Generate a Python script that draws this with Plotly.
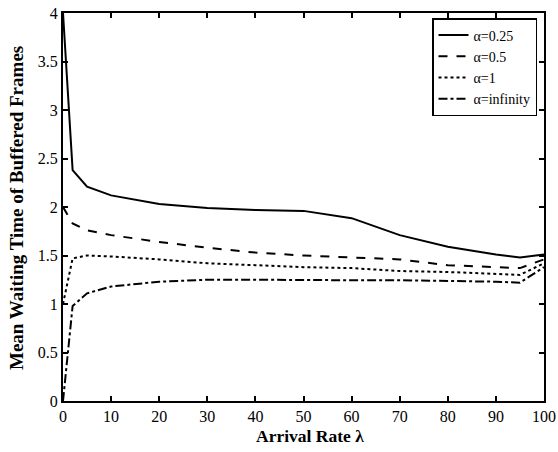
import plotly.graph_objects as go

lam = [0, 2, 5, 10, 20, 30, 40, 50, 60, 70, 80, 90, 95, 100]
alpha_025 = [4.0, 2.38, 2.21, 2.12, 2.03, 1.99, 1.97, 1.96, 1.885, 1.71, 1.59, 1.51, 1.48, 1.51]
alpha_05 = [2.0, 1.83, 1.76, 1.71, 1.64, 1.58, 1.53, 1.50, 1.48, 1.46, 1.40, 1.38, 1.37, 1.46]
alpha_1 = [1.0, 1.47, 1.50, 1.49, 1.46, 1.42, 1.40, 1.38, 1.37, 1.34, 1.33, 1.31, 1.30, 1.42]
alpha_inf = [0.0, 0.98, 1.11, 1.18, 1.23, 1.25, 1.25, 1.245, 1.245, 1.245, 1.24, 1.23, 1.22, 1.38]

series = [
    ("α=0.25", alpha_025, "solid"),
    ("α=0.5", alpha_05, "dash"),
    ("α=1", alpha_1, "dot"),
    ("α=infinity", alpha_inf, "dashdot"),
]

fig = go.Figure()
for name, vals, dash in series:
    fig.add_trace(go.Scatter(x=lam, y=vals, mode="lines", name=name,
                             line=dict(color="black", width=2, dash=dash)))

serif = "Liberation Serif, Times New Roman, serif"
axis_common = dict(showline=True, linecolor="black", linewidth=2, mirror="ticks",
                   ticks="inside", ticklen=5, tickwidth=1.5, tickcolor="black",
                   showgrid=False, zeroline=False, automargin=False,
                   tickfont=dict(family=serif, size=16, color="black"))

L, R, T, B = 63, 14, 13, 51
W, H = 558, 452
pw, ph = W - L - R, H - T - B

fig.update_layout(
    width=W, height=H,
    margin=dict(l=L, r=R, t=T, b=B),
    paper_bgcolor="white", plot_bgcolor="white",
    font=dict(family=serif, color="black"),
    xaxis=dict(range=[0, 100], dtick=10, tick0=0, **axis_common),
    yaxis=dict(range=[0, 4], dtick=0.5, tick0=0, **axis_common),
    legend=dict(x=(432 - L) / pw, y=(H - B - 18) / ph, xanchor="left", yanchor="top",
                bgcolor="white", bordercolor="black", borderwidth=1.5,
                font=dict(family=serif, size=14, color="black"),
                tracegroupgap=0, itemwidth=30),
    showlegend=True,
    annotations=[
        dict(text="<b>Arrival Rate λ</b>", x=(310 - L) / pw, y=(H - B - 436) / ph,
             xref="paper", yref="paper", xanchor="center", yanchor="middle",
             showarrow=False, font=dict(family=serif, size=17.5, color="black")),
        dict(text="<b>Mean Waiting Time of Buffered Frames</b>", x=(16 - L) / pw,
             y=(H - B - 208) / ph, xref="paper", yref="paper",
             xanchor="center", yanchor="middle",
             showarrow=False, textangle=-90, font=dict(family=serif, size=19, color="black")),
    ],
)

fig.write_html("out.html", config={"displayModeBar": False})

with open("out.html", "r", encoding="utf-8") as f:
    html = f.read()
html = html.replace("<head>", "<head><style>html,body{margin:0;padding:0;overflow:hidden;}</style>", 1)
with open("out.html", "w", encoding="utf-8") as f:
    f.write(html)
